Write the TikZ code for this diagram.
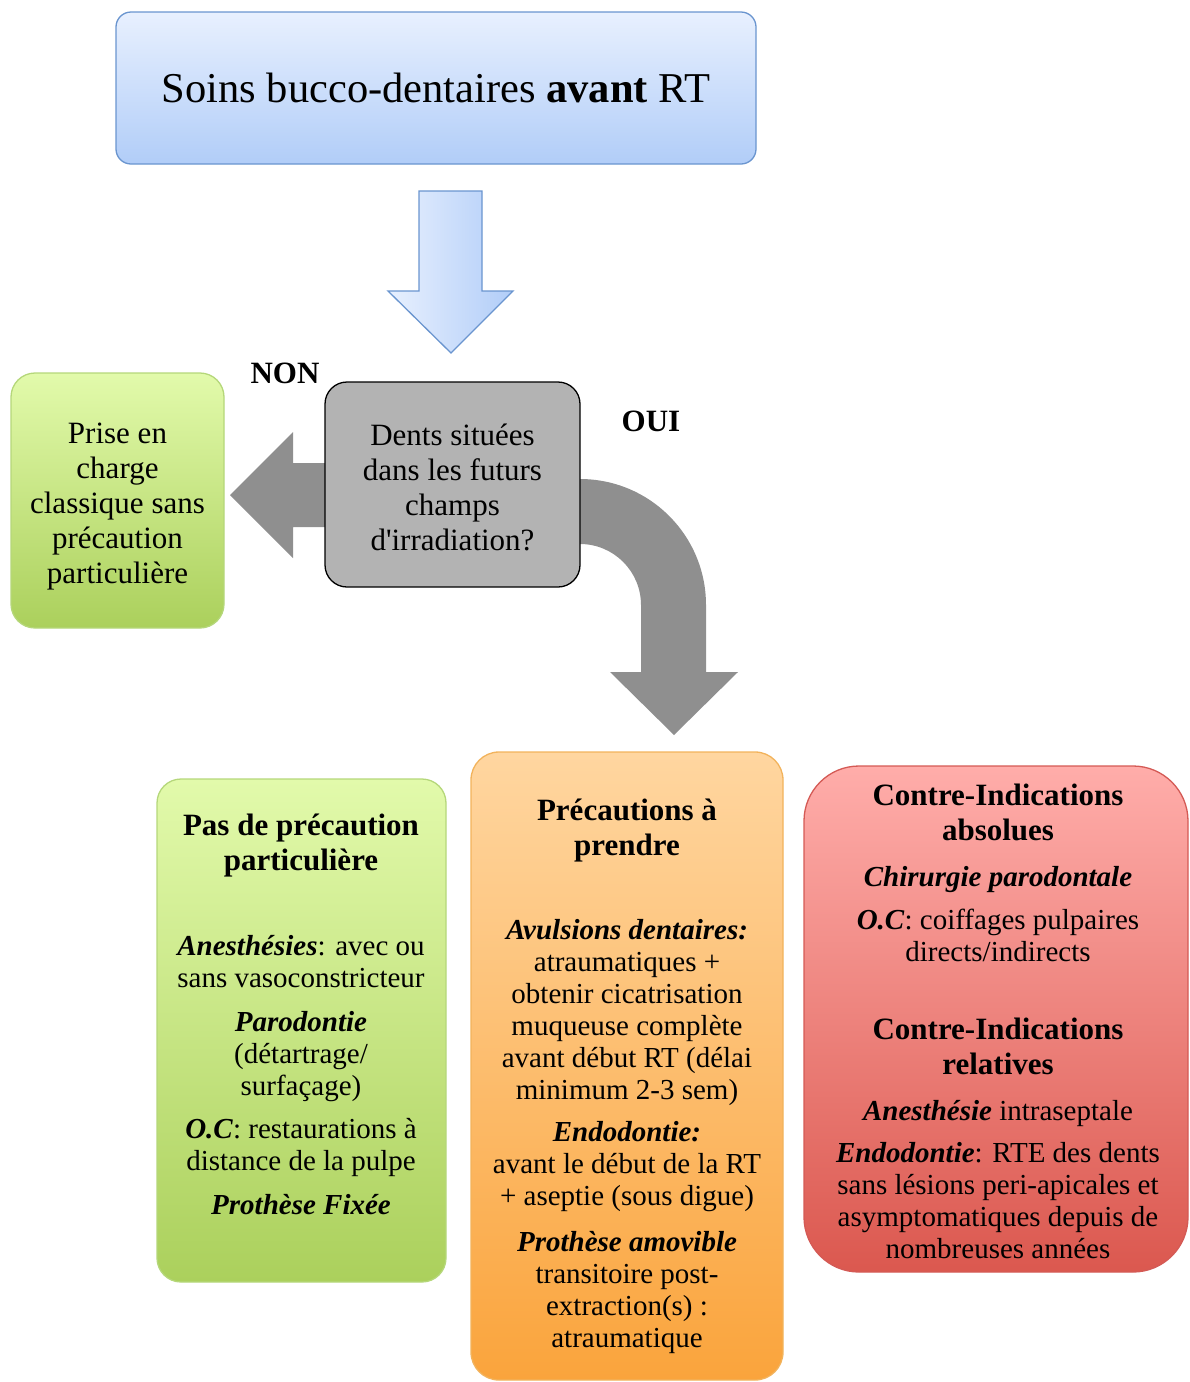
\documentclass[tikz,border=0pt]{standalone}
\usepackage{fontspec}
\setmainfont{Liberation Serif}
\usetikzlibrary{positioning}

\definecolor{bluetop}{HTML}{E8F0FE}
\definecolor{bluebot}{HTML}{B1CDF8}
\definecolor{blueline}{HTML}{6A95CF}
\definecolor{greytxt}{HTML}{B3B3B3}
\definecolor{greyarrow}{HTML}{8F8F8F}
\definecolor{greentop}{HTML}{E2FAAB}
\definecolor{greenbot}{HTML}{ABD05C}
\definecolor{greenline}{HTML}{B5D77A}
\definecolor{orangetop}{HTML}{FFD6A0}
\definecolor{orangebot}{HTML}{FAA43C}
\definecolor{orangeline}{HTML}{F2B35C}
\definecolor{redtop}{HTML}{FFADAA}
\definecolor{redbot}{HTML}{DB584F}
\definecolor{redline}{HTML}{D45A55}

\begin{document}
\begin{tikzpicture}[x=1pt,y=-1pt]
    \tikzstyle{box}=[rectangle,align=center,inner sep=0pt,line width=1.3pt,draw]
    \tikzstyle{big}=[font=\fontsize{42.5}{48}\selectfont]
    \tikzstyle{mid}=[align=center,font=\fontsize{31}{35}\selectfont]
    \tikzstyle{small}=[align=center,font=\fontsize{29}{32}\selectfont]
    \tikzstyle{title}=[align=center,font=\fontsize{31}{35}\selectfont\bfseries]

    \tikzstyle{B}=[box,rounded corners=15pt,draw=blueline,top color=bluetop,bottom color=bluebot] % start
    \tikzstyle{Q}=[box,rounded corners=22pt,draw=black,fill=greytxt]                          % question
    \tikzstyle{G}=[box,rounded corners=24pt,draw=greenline,top color=greentop,bottom color=greenbot] % no care
    \tikzstyle{O}=[box,rounded corners=28pt,draw=orangeline,top color=orangetop,bottom color=orangebot] % care
    \tikzstyle{R}=[box,rounded corners=55pt,draw=redline,top color=redtop,bottom color=redbot]  % contra

    \useasboundingbox (0,0) rectangle (1190,1382);

    % block arrows
    \draw[blueline,line width=1.3pt,left color=bluetop,right color=bluebot]
        (419,191) -- (482,191) -- (482,291) -- (513,291) -- (451,353) -- (388,291) -- (419,291) -- cycle;
    \fill[greyarrow] (345,463) -- (293,463) -- (293,432) -- (230,495) -- (293,558) -- (293,527) -- (345,527) -- cycle;
    \fill[greyarrow] (560,479) -- (580,479) .. controls (649.6,479) and (706,535.4) .. (706,605)
        -- (706,672) -- (738,672) -- (674,735) -- (610,672) -- (641,672) -- (641,605)
        .. controls (641,571.3) and (613.7,544) .. (580,544) -- (560,544) -- cycle;

    \node[B,big,minimum width=640pt,minimum height=152pt] (soins) at (436,88) {Soins bucco-dentaires \textbf{avant} RT};
    \node[Q,mid,minimum width=255pt,minimum height=205pt] (dents) at (452.5,484.5)
        {\rule{0pt}{27pt}Dents situées\\dans les futurs\\champs\\d\textquotesingle irradiation?};
    \node[G,mid,minimum width=213pt,minimum height=255pt] (prise) at (117.5,500.5)
        {\rule{0pt}{32pt}Prise en\\charge\\classique sans\\précaution\\particulière};

    \node[title] (non) at (285,373) {NON};
    \node[title] (oui) at (651,421) {OUI};

    % bottom boxes
    \node[G,minimum width=289pt,minimum height=503pt] (pas) at (301.5,1030.5) {};
    \node[O,minimum width=312pt,minimum height=628pt] (prec) at (627,1066) {};
    \node[R,minimum width=384pt,minimum height=506pt] (ci) at (996,1019) {};

    \node[title] (pas1) at (301,846) {Pas de précaution\\particulière};
    \node[small] (pas2) at (301,962) {\textbf{\textit{Anesthésies}}: avec ou\\sans vasoconstricteur};
    \node[small] (pas3) at (301,1057) {\textbf{\textit{Parodontie}}\\(détartrage/\\surfaçage)};
    \node[small] (pas4) at (301,1147) {\textbf{\textit{O.C}}: restaurations à\\distance de la pulpe};
    \node[small] (pas5) at (301,1205) {\textbf{\textit{Prothèse Fixée}}};

    \node[title] (prec1) at (627,831) {Précautions à\\prendre};
    \node[small] (prec2) at (627,1013) {\textbf{\textit{Avulsions dentaires:}}\\atraumatiques +\\obtenir cicatrisation\\muqueuse complète\\avant début RT (délai\\minimum 2-3 sem)};
    \node[small] (prec3) at (627,1167) {\textbf{\textit{Endodontie:}}\\avant le début de la RT\\+ aseptie (sous digue)};
    \node[small] (prec4) at (627,1292) {\textbf{\textit{Prothèse amovible}}\\transitoire post-\\extraction(s) :\\atraumatique};

    \node[title] (ci1) at (998,812) {Contre-Indications\\absolues};
    \node[small] (ci2) at (998,880) {\textbf{\textit{Chirurgie parodontale}}};
    \node[small] (ci3) at (998,935) {\textbf{\textit{O.C}}: coiffages pulpaires\\directs/indirects};
    \node[title] (ci4) at (998,1046) {Contre-Indications\\relatives};
    \node[small] (ci5) at (998,1113) {\textbf{\textit{Anesthésie}} intraseptale};
    \node[small] (ci6) at (998,1201) {\textbf{\textit{Endodontie}}: RTE des dents\\sans lésions peri-apicales et\\asymptomatiques depuis de\\nombreuses années};
\end{tikzpicture}
\end{document}
